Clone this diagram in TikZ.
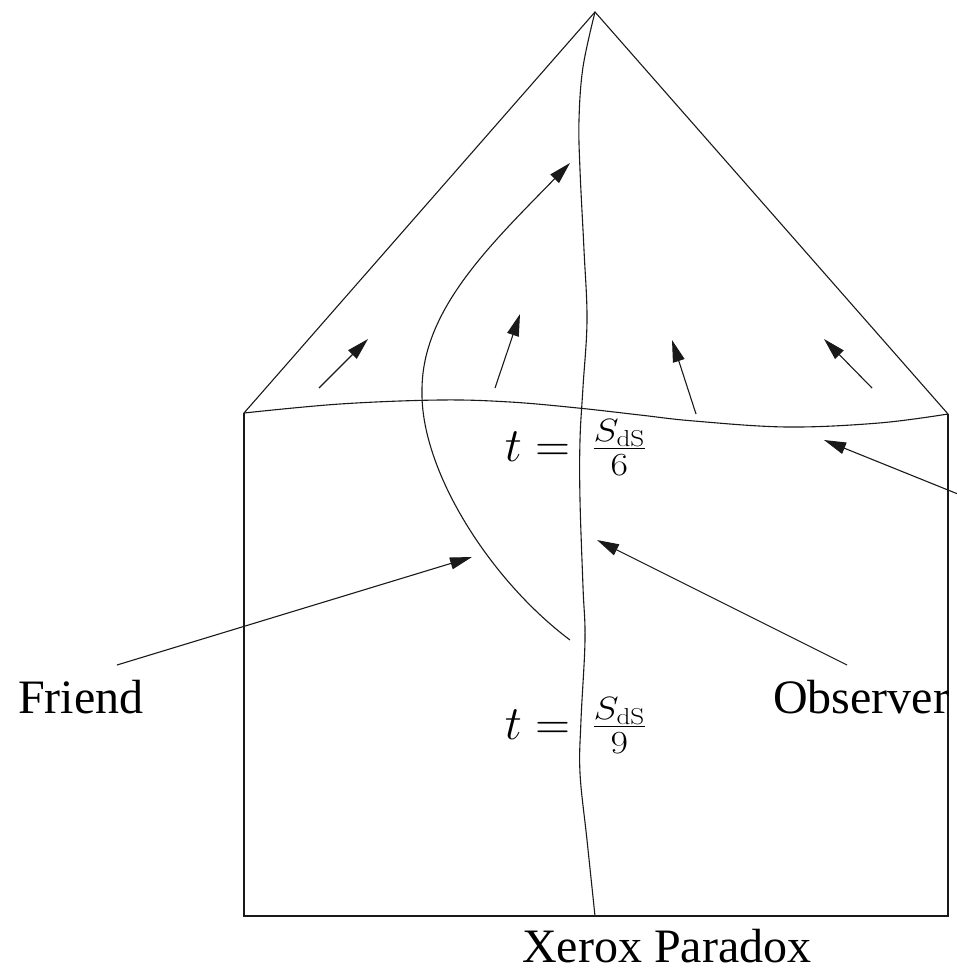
\RequirePackage{fix-cm}
\documentclass[tikz,border=0pt]{standalone}
\usepackage{fontspec}
\usepackage{graphicx}
\newfontfamily\tnr{Liberation Serif}
\usetikzlibrary{arrows.meta}
\tikzset{
  ln/.style={line width=1.1pt, draw=black!90},
  arr/.style={ln, -{Triangle[length=22pt,width=12pt]}},
  txt/.style={font=\fontsize{48}{58}\selectfont\tnr, inner sep=0pt, anchor=base west},
  mth/.style={font=\fontsize{48}{58}\selectfont, inner sep=0pt, anchor=base east},
  frc/.style={font=\fontsize{46}{56}\selectfont, inner sep=0pt, anchor=base west}
}
\newcommand{\wfrac}[1]{\scalebox{1.18}[1]{$\frac{S_{\mathrm{dS}}}{#1}$}}
\begin{document}
\begin{tikzpicture}[x=1pt,y=-1pt]
\useasboundingbox (0,0) rectangle (957,972);
\clip (0,0) rectangle (957,972);
% key points
\coordinate (apex) at (595,12);
\coordinate (lc) at (244,413);
\coordinate (rc) at (948,414);
\coordinate (lb) at (244,916);
\coordinate (rb) at (948,916);
% roof and box
\draw[ln] (lc) -- (apex) -- (rc);
\draw[ln] (lc) -- (lb) -- (rb) -- (rc);
% wavy slice
\draw[ln] plot[smooth, tension=0.6] coordinates {(244,413) (340,404) (440,400) (510,402) (578,408) (640,415) (694,421) (787,427) (879,423) (948,414)};
% observer worldline
\draw[ln] plot[smooth, tension=0.6] coordinates {(595,12) (583,67) (579,120) (580,170) (584,250) (587,320) (583,387) (580,440) (580,500) (583,587) (585,640) (581,720) (580,773) (587,840) (595,916)};
% friend worldline
\coordinate (fb) at (570,640);
\coordinate (fm) at (422,390);
\coordinate (ft) at (570,163);
\draw[arr] (fb) .. controls (490,580) and (420,470) .. (fm)
               .. controls (422,310) and (490,245) .. (ft);
% roof arrows
\coordinate (a1s) at (319,388); \coordinate (a1e) at (368,339);
\coordinate (a2s) at (495,388); \coordinate (a2e) at (520,314);
\coordinate (a3s) at (696,414); \coordinate (a3e) at (672,340);
\coordinate (a4s) at (872,388); \coordinate (a4e) at (824,339);
\draw[arr] (a1s) -- (a1e);
\draw[arr] (a2s) -- (a2e);
\draw[arr] (a3s) -- (a3e);
\draw[arr] (a4s) -- (a4e);
% labels
\node[mth] (t6) at (570,461) {$t =$};
\node[frc] (f6) at (592,460) {\wfrac{6}};
\node[mth] (t9) at (570,739) {$t =$};
\node[frc] (f9) at (592,738) {\wfrac{9}};
\node[txt] (friend) at (18,713) {Friend};
\node[txt] (obs) at (773,713) {Observer};
\node[txt] (xerox) at (522,962) {Xerox Paradox};
% pointer arrows
\coordinate (fs) at (117,665); \coordinate (fe) at (472,557);
\coordinate (os) at (847,665); \coordinate (oe) at (597,540);
\coordinate (rs) at (1000,511); \coordinate (re) at (824,440);
\draw[arr] (fs) -- (fe);
\draw[arr] (os) -- (oe);
\draw[arr] (rs) -- (re);
\end{tikzpicture}
\end{document}
